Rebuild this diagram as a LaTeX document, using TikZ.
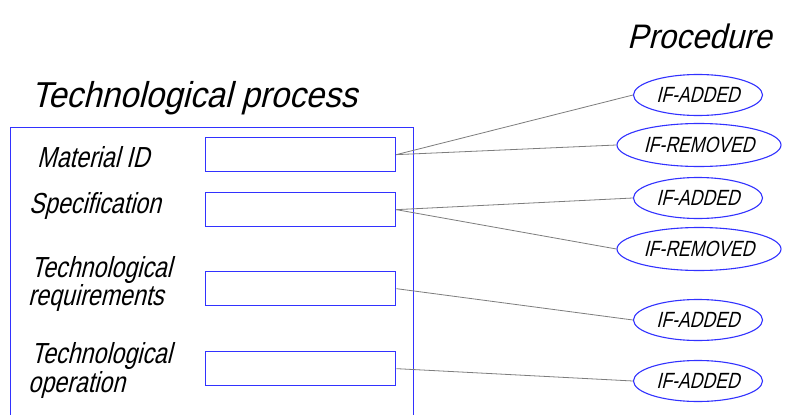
\documentclass[tikz,border=0pt]{standalone}
\usepackage{fontspec}
\newfontfamily\gostn[FakeSlant=0.25,FakeStretch=0.8]{Liberation Sans}
\newfontfamily\gostw[FakeSlant=0.25,FakeStretch=0.92]{Liberation Sans}
\usetikzlibrary{shapes.geometric}
\definecolor{bl}{RGB}{50,50,255}
\definecolor{cn}{RGB}{125,125,125}
\tikzset{
  fld/.style={draw=bl,line width=1.3pt,minimum width=190pt,minimum height=34pt,inner sep=0pt,anchor=north west},
  ifa/.style={draw=bl,line width=1.1pt,ellipse,minimum width=129pt,minimum height=41pt,inner sep=0pt,font=\gostn\fontsize{22}{22}\selectfont},
  ifr/.style={ifa,minimum width=164pt,minimum height=43pt},
  lbl/.style={anchor=base west,inner sep=0pt,font=\gostn\fontsize{29}{29}\selectfont},
  ttl/.style={anchor=base west,inner sep=0pt,font=\gostw\fontsize{36}{36}\selectfont},
  conn/.style={draw=cn,line width=0.8pt}
}
\begin{document}
\begin{tikzpicture}[x=1pt,y=-1pt]
\useasboundingbox (0,0) rectangle (785,415);
\clip (0,0) rectangle (785,415);
\fill[white] (0,0) rectangle (785,415);
% titles
\node[ttl] (tp) at (31,107) {Technological process};
\node[ttl,font=\gostw\fontsize{34}{34}\selectfont] (pr) at (627,48) {Procedure};
% main frame
\node[draw=bl,line width=1.3pt,minimum width=403pt,minimum height=300pt,inner sep=0pt,anchor=north west] (frame) at (10,127) {};
% labels
\node[lbl] (l1) at (37,167) {Material ID};
\node[lbl] (l2) at (29,213) {Specification};
\node[lbl] (l3a) at (31,277) {Technological};
\node[lbl] (l3b) at (28,305) {requirements};
\node[lbl] (l4a) at (31,363) {Technological};
\node[lbl] (l4b) at (28,392) {operation};
% fields
\node[fld] (f1) at (205,137) {};
\node[fld] (f2) at (205,192) {};
\node[fld] (f3) at (205,271) {};
\node[fld] (f4) at (205,351) {};
% procedures
\node[ifa] (a1) at (698,95) {IF-ADDED};
\node[ifr] (r1) at (699,145) {IF-REMOVED};
\node[ifa] (a2) at (698,198) {IF-ADDED};
\node[ifr] (r2) at (699,249) {IF-REMOVED};
\node[ifa] (a3) at (698,320) {IF-ADDED};
\node[ifa] (a4) at (698,381) {IF-ADDED};
% connectors
\draw[conn] (f1.east) -- (a1.west);
\draw[conn] (f1.east) -- (r1.west);
\draw[conn] (f2.east) -- (a2.west);
\draw[conn] (f2.east) -- (r2.west);
\draw[conn] (f3.east) -- (a3.west);
\draw[conn] (f4.east) -- (a4.west);
\end{tikzpicture}
\end{document}
